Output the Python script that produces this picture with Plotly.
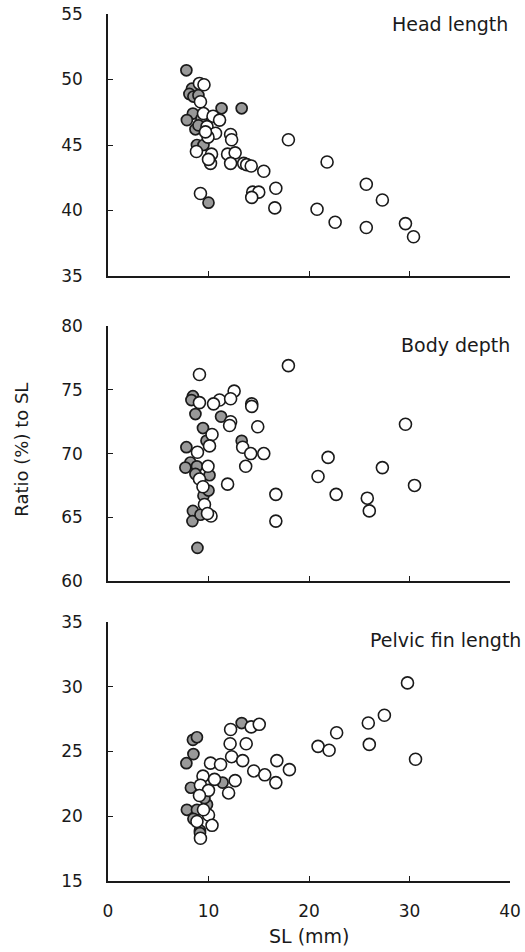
import plotly.graph_objects as go

# ---- data (SL in mm, ratio in % of SL) ----
head_filled_x = [7.8, 8.35, 8.1, 8.5, 9.0, 8.45, 7.85, 8.7, 8.85, 9.5, 9.3, 11.3, 13.3, 10.0, 9.0]
head_filled_y = [50.7, 49.3, 48.9, 48.7, 48.8, 47.4, 46.9, 46.2, 45.0, 45.0, 47.0, 47.8, 47.8, 40.6, 46.5]
head_open_x = [9.1, 9.55, 9.2, 9.5, 10.45, 11.1, 9.85, 10.7, 9.95, 9.7, 12.2, 12.3, 17.95, 8.8,
               10.3, 11.9, 12.65, 10.2, 12.2, 13.5, 13.8, 14.25, 15.5, 9.2, 14.4, 15.0, 14.3,
               16.7, 16.6, 21.8, 25.7, 27.3, 20.8, 22.6, 25.7, 29.6, 30.4, 10.0]
head_open_y = [49.7, 49.6, 48.3, 47.4, 47.2, 46.9, 46.4, 45.9, 45.6, 46.0, 45.8, 45.4, 45.4, 44.5,
               44.3, 44.3, 44.4, 43.6, 43.6, 43.6, 43.5, 43.4, 43.0, 41.3, 41.4, 41.4, 41.0,
               41.7, 40.2, 43.7, 42.0, 40.8, 40.1, 39.1, 38.7, 39.0, 38.0, 43.9]

body_filled_x = [8.45, 8.3, 8.7, 9.45, 11.25, 9.8, 7.8, 8.2, 7.7, 8.85, 8.7, 10.1, 9.5, 10.0,
                 8.45, 8.4, 9.2, 8.9, 13.3]
body_filled_y = [74.5, 74.2, 73.1, 72.0, 72.9, 71.0, 70.5, 69.3, 68.9, 69.0, 68.4, 68.3, 66.7, 67.1,
                 65.5, 64.7, 65.2, 62.6, 71.0]
body_open_x = [9.1, 17.95, 12.55, 11.1, 10.5, 12.2, 9.1, 14.3, 14.3, 12.2, 12.1, 14.9, 10.35, 13.4,
               14.2, 15.5, 13.7, 10.1, 9.95, 8.9, 9.1, 9.45, 11.9, 9.6, 10.25, 16.7, 16.7, 21.9,
               20.9, 22.7, 27.3, 29.6, 30.5, 25.8, 26.0, 9.9]
body_open_y = [76.2, 76.9, 74.9, 74.2, 73.9, 74.3, 74.0, 73.9, 73.7, 72.5, 72.2, 72.1, 71.5, 70.5,
               70.0, 70.0, 69.0, 70.6, 69.0, 70.1, 68.0, 67.4, 67.6, 66.0, 65.1, 66.8, 64.7, 69.7,
               68.2, 66.8, 68.9, 72.3, 67.5, 66.5, 65.5, 65.3]

pelvic_filled_x = [8.45, 8.85, 8.5, 7.8, 8.25, 11.4, 13.3, 7.85, 8.85, 8.5, 9.85, 9.15, 9.15, 9.6]
pelvic_filled_y = [25.9, 26.1, 24.8, 24.1, 22.2, 22.6, 27.2, 20.5, 20.5, 19.8, 20.9, 18.9, 18.7, 21.4]
pelvic_open_x = [12.2, 12.15, 14.25, 15.05, 13.75, 12.3, 13.4, 16.8, 18.05, 14.5, 15.6, 16.7, 12.65,
                 12.0, 10.2, 11.2, 9.45, 10.6, 9.2, 10.0, 9.1, 10.0, 10.35, 9.2, 8.85, 29.8, 27.5,
                 25.9, 26.0, 30.6, 22.75, 20.9, 22.0, 9.5]
pelvic_open_y = [26.7, 25.6, 26.9, 27.1, 25.6, 24.6, 24.3, 24.3, 23.6, 23.5, 23.2, 22.6, 22.75,
                 21.8, 24.1, 24.0, 23.1, 22.85, 22.4, 22.0, 21.6, 20.1, 19.3, 18.3, 19.6, 30.3, 27.8,
                 27.2, 25.55, 24.4, 26.45, 25.4, 25.1, 20.5]

panel_labels = ["Head length", "Body depth", "Pelvic fin length"]
x_ticks = [0, 10, 20, 30, 40]
y_ranges = [[35, 55], [60, 80], [15, 35]]

FONT = "DejaVu Sans, Arial, sans-serif"
INK = "#1a1a1a"

fig = go.Figure()

panels = [
    (head_filled_x, head_filled_y, head_open_x, head_open_y),
    (body_filled_x, body_filled_y, body_open_x, body_open_y),
    (pelvic_filled_x, pelvic_filled_y, pelvic_open_x, pelvic_open_y),
]
for i, (fx, fy, ox, oy) in enumerate(panels):
    xa = "x" if i == 0 else f"x{i+1}"
    ya = "y" if i == 0 else f"y{i+1}"
    fig.add_trace(go.Scatter(x=fx, y=fy, mode="markers", xaxis=xa, yaxis=ya, showlegend=False,
                             marker=dict(size=11, color="#999999",
                                         line=dict(color=INK, width=1.7))))
    fig.add_trace(go.Scatter(x=ox, y=oy, mode="markers", xaxis=xa, yaxis=ya, showlegend=False,
                             marker=dict(size=12, color="white",
                                         line=dict(color=INK, width=1.6))))

domains = [[0.6978, 1.0], [0.346, 0.640], [0.0, 0.2987]]
axis_common = dict(showgrid=False, zeroline=False, showline=True, linecolor=INK, linewidth=1.5,
                   ticks="inside", ticklen=5, tickwidth=1, tickcolor=INK, automargin=False,
                   tickfont=dict(family=FONT, size=17, color=INK))
layout = {}
for i in range(3):
    xk = "xaxis" if i == 0 else f"xaxis{i+1}"
    yk = "yaxis" if i == 0 else f"yaxis{i+1}"
    ya = "y" if i == 0 else f"y{i+1}"
    xa = "x" if i == 0 else f"x{i+1}"
    layout[xk] = dict(axis_common, range=[0, 40], tickvals=x_ticks, anchor=ya,
                      showticklabels=(i == 2), ticklabelstandoff=14)
    lo, hi = y_ranges[i]
    layout[yk] = dict(axis_common, range=[lo, hi], domain=domains[i], anchor=xa,
                      tickvals=list(range(lo, hi + 1, 5)), ticklabelstandoff=20)
fig.update_layout(**layout)

ann_pos = [(1.0, 0.9885), (1.005, 0.618), (1.032, 0.278)]
for lab, (ax, ay) in zip(panel_labels, ann_pos):
    fig.add_annotation(text=lab, x=ax, y=ay, xref="paper", yref="paper", xanchor="right",
                       yanchor="middle", showarrow=False,
                       font=dict(family=FONT, size=19, color=INK))

fig.add_annotation(text="Ratio (%) to SL", x=-0.215, y=0.497, xref="paper", yref="paper",
                   textangle=-90, showarrow=False, xanchor="center", yanchor="middle",
                   font=dict(family=FONT, size=18, color=INK))
fig.add_annotation(text="SL (mm)", x=0.5, y=-0.064, xref="paper", yref="paper",
                   showarrow=False, xanchor="center", yanchor="middle",
                   font=dict(family=FONT, size=19, color=INK))

fig.update_layout(width=525, height=952, margin=dict(l=108, r=15, t=14, b=71),
                  paper_bgcolor="white", plot_bgcolor="white")

fig.write_html("out.html", config={"displayModeBar": False},
               post_script="document.body.style.margin='0';document.body.style.overflow='hidden';")
